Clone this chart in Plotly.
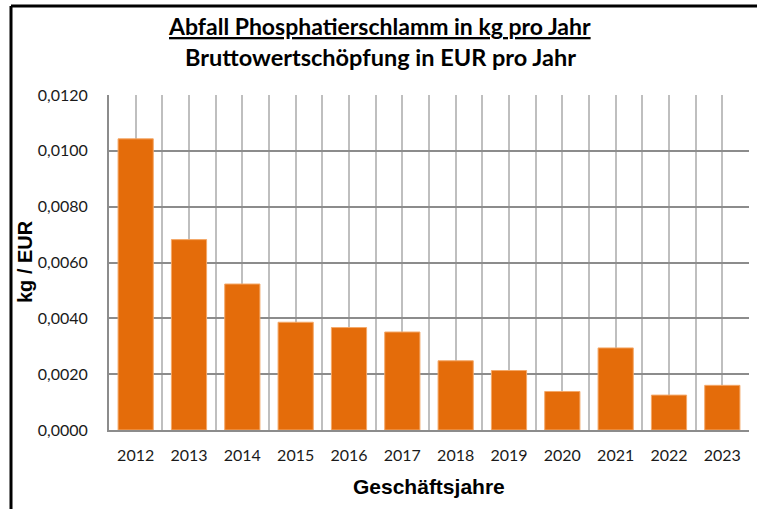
import plotly.graph_objects as go

years = ["2012", "2013", "2014", "2015", "2016", "2017", "2018", "2019", "2020", "2021", "2022", "2023"]
values = [0.01043, 0.00682, 0.00523, 0.00386, 0.00367, 0.00351, 0.00248, 0.00213, 0.00138, 0.00294, 0.00125, 0.00160]
y_ticks = [0.0, 0.002, 0.004, 0.006, 0.008, 0.010, 0.012]

title1 = "Abfall Phosphatierschlamm in kg pro Jahr"
title2 = "Bruttowertschöpfung in EUR pro Jahr"
x_title = "Geschäftsjahre"
y_title = "kg / EUR"

W, H = 758, 510
L, R, T, B = 109, 9, 95, 80
pw, ph = W - L - R, H - T - B

def px_x(p):
    return (p - L) / pw

def px_y(p):
    return (H - B - p) / ph

xs = list(range(len(years)))

fig = go.Figure()
fig.add_trace(go.Bar(
    x=xs, y=values,
    marker=dict(color="#E46C0A", line=dict(color="#F4A868", width=1)),
    width=0.66,
    hoverinfo="skip",
))

fig.update_layout(
    width=W, height=H,
    margin=dict(l=L, r=R, t=T, b=B),
    paper_bgcolor="white", plot_bgcolor="white",
    showlegend=False,
    separators=",.",
    font=dict(family="Lato", color="#1a1a1a"),
    xaxis=dict(
        range=[-0.5, len(years) - 0.5],
        tickmode="array", tickvals=xs, ticktext=years,
        showgrid=True, gridcolor="#BFBFBF", gridwidth=1.5,
        minor=dict(tick0=0.5, dtick=1, showgrid=True, gridcolor="#BFBFBF", gridwidth=1.5),
        showline=True, linecolor="#8C8C8C", linewidth=2,
        ticks="", ticklabelstandoff=10,
        tickfont=dict(family="Lato", size=16, color="#1a1a1a"),
        zeroline=False, fixedrange=True,
    ),
    yaxis=dict(
        range=[0, 0.012],
        tickmode="array", tickvals=y_ticks, tickformat=".4f",
        showgrid=True, gridcolor="#8C8C8C", gridwidth=1.5,
        showline=True, linecolor="#8C8C8C", linewidth=2,
        ticks="", ticklabelstandoff=16,
        tickfont=dict(family="Lato", size=16, color="#1a1a1a"),
        zeroline=False, fixedrange=True,
    ),
    annotations=[
        dict(text="<b><u>" + title1 + "</u></b>", xref="paper", yref="paper",
             x=px_x(379), y=px_y(26), xanchor="center", yanchor="middle",
             showarrow=False, font=dict(family="Lato", size=23, color="black")),
        dict(text="<b>" + title2 + "</b>", xref="paper", yref="paper",
             x=px_x(380), y=px_y(57), xanchor="center", yanchor="middle",
             showarrow=False, font=dict(family="Lato", size=23.5, color="black")),
        dict(text="<b>" + x_title + "</b>", xref="paper", yref="paper",
             x=px_x(429), y=px_y(486), xanchor="center", yanchor="middle",
             showarrow=False, font=dict(family="Liberation Sans", size=21, color="black")),
        dict(text="<b>" + y_title + "</b>", xref="paper", yref="paper",
             x=px_x(25), y=px_y(262), xanchor="center", yanchor="middle",
             textangle=-90, showarrow=False,
             font=dict(family="Liberation Sans", size=20, color="black")),
    ],
    shapes=[
        dict(type="line", xref="paper", yref="paper", x0=px_x(11), x1=px_x(757),
             y0=px_y(6), y1=px_y(6), line=dict(color="black", width=3)),
        dict(type="line", xref="paper", yref="paper", x0=px_x(11), x1=px_x(11),
             y0=px_y(6), y1=px_y(509), line=dict(color="black", width=3)),
    ],
)

fig.write_html(
    "out.html",
    config={"displayModeBar": False},
    post_script="document.body.style.margin='0';document.body.style.overflow='hidden';",
)
